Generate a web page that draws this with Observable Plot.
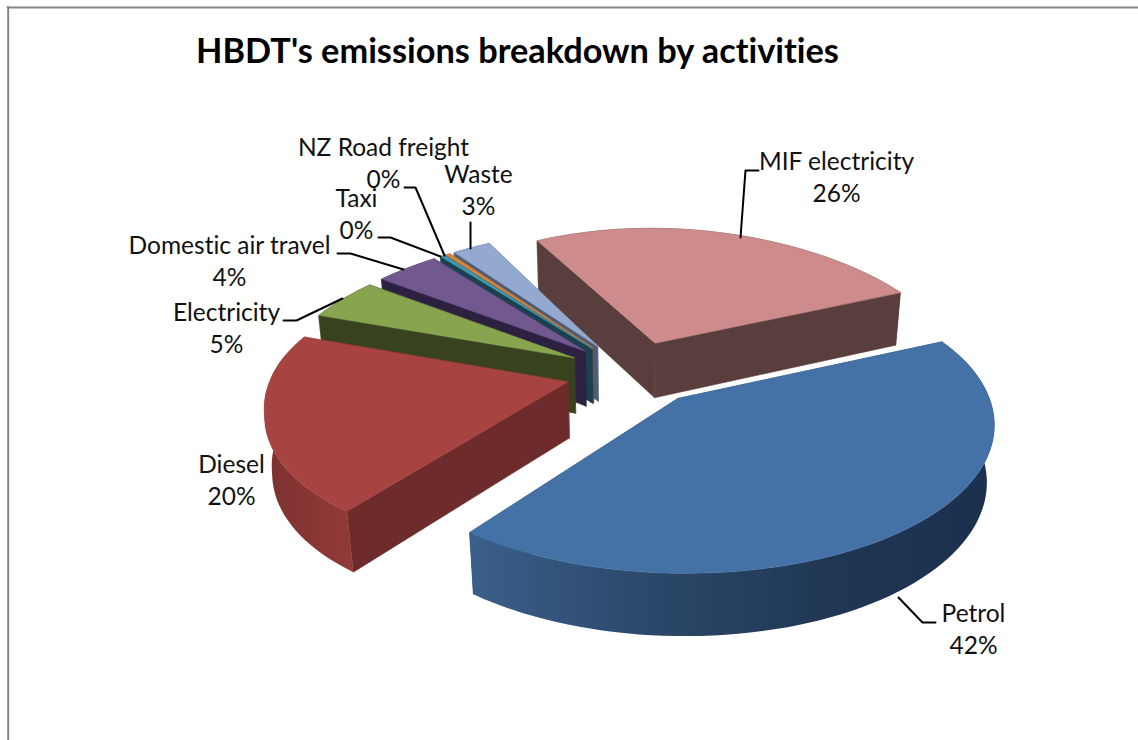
<!DOCTYPE html>
<html>
<head>
<meta charset="utf-8">
<script src="https://cdn.jsdelivr.net/npm/d3@7"></script>
<script src="https://cdn.jsdelivr.net/npm/@observablehq/plot@0.6"></script>
<style>html,body{margin:0;padding:0;background:#fff;overflow:hidden} svg text{font-variant-ligatures:none}</style>
</head>
<body>
<div id="chart"></div>
<script>
// ---- data ----
const categories = ["Petrol","Diesel","Electricity","Domestic air travel","Taxi","NZ Road freight","Waste","MIF electricity"];
const values = [42,20,4.6,4,0.3,0.3,2.5,26.3];
const percents = ["42%","20%","5%","4%","0%","0%","3%","26%"];
const title = "HBDT's emissions breakdown by activities";
// ---- styles ----
const topColors  = ["#4472A6","#A74442","#88A44E","#71588F","#4198AF","#DB843D","#93A9CF","#CD8C8B"];
const sideColors = ["#2B4869","#6E2B2B","#39421F","#2C2140","#1B4050","#804E20","#4F5C75","#5A3E3E"];
const bandFills  = ["url(#petrolBand)","url(#dieselBand)"];
// ---- label layout ----
const nameX = [973,231,226,229,356,383,478,836];
const nameY = [614,465,313,246,199,148,175,162];
const pctY  = [646,497,345,278,231,180,207,194];
const leaders = [
  [[935,622],[922,622],[898,597]],
  null,
  [[283,320],[296,320],[342,298]],
  [[337,253],[350,253],[403,269]],
  [[378,237],[390,237],[440,256]],
  [[404,187],[415,187],[444,255]],
  [[470,222],[470,248]],
  [[758,170],[745,170],[740,237]]
];
// ---- 3-D view of the pie ----
const view = {cx:633, cy:372, R:303, Rs:140, depth:57, k:0.15, m:0.02, backNarrow:0.07, leftNarrow:0.025, explode:0.23, start:66*Math.PI/180};
const project = (X,Y,z) => {
  const w = 1 + view.k*Y + view.m*z;
  const wx = w + view.backNarrow*Math.max(0,Y)**2;
  const ramp = Math.min(1, Math.max(0, (Y+0.9)/0.6));
  const Xs = X < 0 ? X*(1 - view.leftNarrow*ramp) : X;
  return {x: view.cx + view.R*Xs/wx, y: view.cy + (-view.Rs*Y + view.depth*z)/w};
};
const arcs = d3.pie().sort(null).startAngle(view.start).endAngle(view.start+2*Math.PI)(values);
const sliceFaces = arcs.map((a,i) => {
  const mid = (a.startAngle+a.endAngle)/2;
  const ox = view.explode*Math.sin(mid), oy = view.explode*Math.cos(mid);
  const n = Math.max(2, Math.ceil((a.endAngle-a.startAngle)/(Math.PI/90)));
  const thetas = d3.range(n+1).map(j => a.startAngle + (a.endAngle-a.startAngle)*j/n);
  const rim = (t,z) => project(ox+Math.sin(t), oy+Math.cos(t), z);
  const apex = z => project(ox,oy,z);
  return {
    i, order: oy,
    sideA: [apex(0),rim(a.startAngle,0),rim(a.startAngle,1),apex(1)],
    sideB: [apex(0),rim(a.endAngle,0),rim(a.endAngle,1),apex(1)],
    band: [...thetas.map(t=>rim(t,0)), ...thetas.slice().reverse().map(t=>rim(t,1))],
    top: [apex(0), ...thetas.map(t=>rim(t,0))]
  };
}).sort((p,q) => q.order-p.order);

const face = (pts,color) => Plot.line(pts,{x:"x",y:"y",curve:"linear-closed",fill:color,
  stroke: color.startsWith("url") ? "none" : color, strokeWidth:0.6});

const pieMarks = sliceFaces.flatMap(s => [
  face(s.sideA, sideColors[s.i]),
  face(s.sideB, sideColors[s.i]),
  face(s.band, bandFills[s.i] || sideColors[s.i]),
  face(s.top, topColors[s.i])
]);

const gradients = () => {
  const svg = d3.create("svg:defs");
  const add = (id,stops) => {
    const g = svg.append("linearGradient").attr("id",id).attr("x1",0).attr("x2",1).attr("y1",0).attr("y2",0);
    stops.forEach(([o,c]) => g.append("stop").attr("offset",o).attr("stop-color",c));
  };
  add("petrolBand",[[0,"#3A5F8A"],[0.35,"#2B4769"],[0.7,"#1F3654"],[1,"#1B304C"]]);
  add("dieselBand",[[0,"#7C3230"],[0.6,"#8A3735"],[1,"#923B39"]]);
  return svg.node();
};

const labels = categories.flatMap((c,i) => [
  {text:c, x:nameX[i], y:nameY[i]},
  {text:percents[i], x:nameX[i], y:pctY[i]}
]);
const leaderPts = leaders.flatMap((l,i) => (l||[]).map(p => ({x:p[0],y:p[1],z:i})));

const chart = Plot.plot({
  width:1138, height:740, margin:0,
  style:{background:"#fff"},
  x:{domain:[0,1138],range:[0,1138],axis:null},
  y:{domain:[0,740],range:[0,740],axis:null},
  marks:[
    gradients,
    Plot.ruleX([7.7],{y1:6,y2:740,stroke:"#868686",strokeWidth:2}),
    Plot.ruleY([7],{x1:6.7,x2:1138,stroke:"#868686",strokeWidth:2}),
    ...pieMarks,
    Plot.line(leaderPts,{x:"x",y:"y",z:"z",stroke:"#000",strokeWidth:2}),
    Plot.text(labels,{x:"x",y:"y",text:"text",fill:"#111",fontSize:24.5,fontFamily:"Lato",textAnchor:"middle",lineAnchor:"middle"}),
    Plot.text([title],{x:[517],y:[52],text:d=>d,fill:"#000",fontSize:34.3,fontWeight:"bold",fontFamily:"Lato",textAnchor:"middle",lineAnchor:"middle"})
  ]
});
document.getElementById("chart").append(chart);
</script>
</body>
</html>
